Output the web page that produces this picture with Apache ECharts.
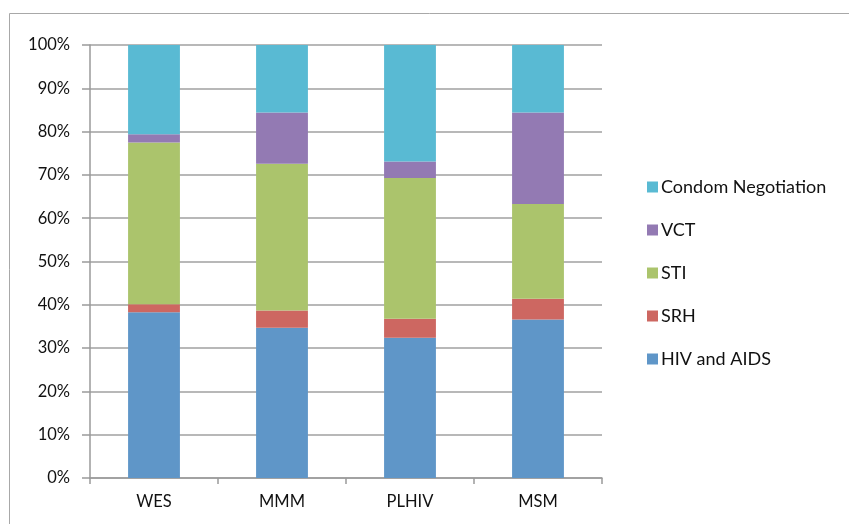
<!DOCTYPE html>
<html>
<head>
<meta charset="utf-8">
<script src="https://cdn.jsdelivr.net/npm/echarts@6/dist/echarts.min.js"></script>
<style>
  html, body { margin: 0; padding: 0; background: #fff; }
  #chart { width: 849px; height: 524px; }
</style>
</head>
<body>
<div id="chart"></div>
<script>
// Groups along the x axis
const categories = ['WES', 'MMM', 'PLHIV', 'MSM'];

// Share of each topic per group (percent, each group sums to 100)
const hivAids = [38.3, 34.7, 32.4, 36.6];
const srh = [1.8, 4.0, 4.4, 4.8];
const sti = [37.4, 33.9, 32.5, 21.9];
const vct = [1.9, 11.8, 3.8, 21.1];
const condomNegotiation = [20.6, 15.6, 26.9, 15.6];

const yTicks = [0, 10, 20, 30, 40, 50, 60, 70, 80, 90, 100];

const seriesDefs = [
  { name: 'HIV and AIDS', data: hivAids, color: '#5f96c8' },
  { name: 'SRH', data: srh, color: '#cd6761' },
  { name: 'STI', data: sti, color: '#abc46c' },
  { name: 'VCT', data: vct, color: '#937ab3' },
  { name: 'Condom Negotiation', data: condomNegotiation, color: '#59bad3' }
];

const font = 'Lato, "Open Sans", sans-serif';
const chart = echarts.init(document.getElementById('chart'), null, { renderer: 'canvas' });

chart.setOption({
  animation: false,
  backgroundColor: '#ffffff',
  graphic: [{
    type: 'rect',
    shape: { x: 9.5, y: 13.5, width: 900, height: 600 },
    style: { fill: 'none', stroke: '#a8a8a8', lineWidth: 1 },
    silent: true
  }],
  grid: { left: 90, right: 247, top: 45, bottom: 46, containLabel: false },
  legend: {
    orient: 'vertical',
    left: 647,
    top: 178,
    padding: 0,
    itemWidth: 11,
    itemHeight: 11,
    itemGap: 25,
    icon: 'rect',
    data: ['Condom Negotiation', 'VCT', 'STI', 'SRH', 'HIV and AIDS'],
    textStyle: { fontFamily: font, fontSize: 18, color: '#111', padding: [0, 0, 0, -2] }
  },
  xAxis: {
    type: 'category',
    data: categories,
    axisLine: { lineStyle: { color: '#9a9a9a', width: 1.5 } },
    axisTick: { show: true, length: 6, alignWithLabel: false, lineStyle: { color: '#9a9a9a', width: 1.5 } },
    axisLabel: { fontFamily: font, fontSize: 16.5, color: '#111', margin: 15 }
  },
  yAxis: {
    type: 'value',
    min: yTicks[0],
    max: yTicks[yTicks.length - 1],
    interval: 10,
    axisLine: { show: true, lineStyle: { color: '#9a9a9a', width: 1.5 } },
    axisTick: { show: true, inside: false, length: 8, lineStyle: { color: '#9a9a9a', width: 1.5 } },
    axisLabel: { fontFamily: font, fontSize: 16.5, color: '#111', margin: 20, formatter: v => v + '%' },
    splitLine: { show: true, lineStyle: { color: '#a0a0a0', width: 1.5 } }
  },
  series: seriesDefs.map(s => ({
    name: s.name,
    type: 'bar',
    stack: 'total',
    barWidth: '40.5%',
    data: s.data,
    itemStyle: { color: s.color }
  }))
});
</script>
</body>
</html>
